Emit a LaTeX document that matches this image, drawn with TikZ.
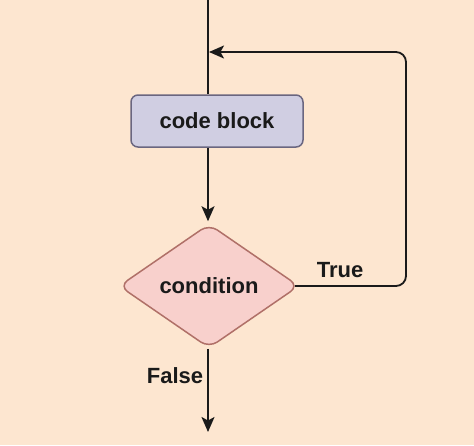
\documentclass[tikz,border=0pt]{standalone}
\usepackage{fontspec}
\setmainfont{Liberation Sans}
\usetikzlibrary{shapes.geometric,arrows.meta}
\definecolor{bg}{HTML}{FDE6D0}
\definecolor{blockfill}{HTML}{D0CEE2}
\definecolor{blockdraw}{HTML}{6A6680}
\definecolor{diafill}{HTML}{F8D0CC}
\definecolor{diadraw}{HTML}{B07068}
\definecolor{ink}{HTML}{1A1A1A}
\tikzset{
  block/.style={draw=blockdraw, fill=blockfill, line width=1.5pt, rounded corners=7pt,
    minimum width=172pt, minimum height=52pt, inner sep=0pt, text=ink,
    font=\fontsize{22}{25}\selectfont\bfseries},
  dia/.style={diamond, draw=diadraw, fill=diafill, line width=1.5pt, rounded corners=10pt,
    minimum width=180pt, minimum height=124pt, inner sep=0pt, text=ink,
    font=\fontsize{22}{25}\selectfont\bfseries},
  conn/.style={draw=ink, line width=1.8pt},
  arr/.style={conn, -{Stealth[length=15pt,width=13pt,inset=3.5pt]}},
  lbl/.style={text=ink, font=\fontsize{22}{25}\selectfont\bfseries, inner sep=0pt}
}
\begin{document}
\begin{tikzpicture}[x=1pt,y=-1pt]
\fill[bg] (0,0) rectangle (474,445);
\useasboundingbox (0,0) rectangle (474,445);
\node[block] (cb) at (217,121) {code block};
\node[dia] (cond) at (209,286) {condition};
\coordinate (top) at (208,0);
\coordinate (join) at (209,52);
\coordinate (corner) at (406,52);
\coordinate (bot) at (208,432);
\draw[conn] (top) -- (top |- cb.north);
\draw[arr, shorten >=2pt] (cb.south -| top) -- (top |- cond.north);
\draw[arr, rounded corners=10pt] ([xshift=-5pt]cond.east) -| (corner) -- (join);
\draw[arr] (top |- cond.south) -- (bot);
\node[lbl] (t) at (340,270) {True};
\node[lbl] (f) at (175,376) {False};
\end{tikzpicture}
\end{document}
